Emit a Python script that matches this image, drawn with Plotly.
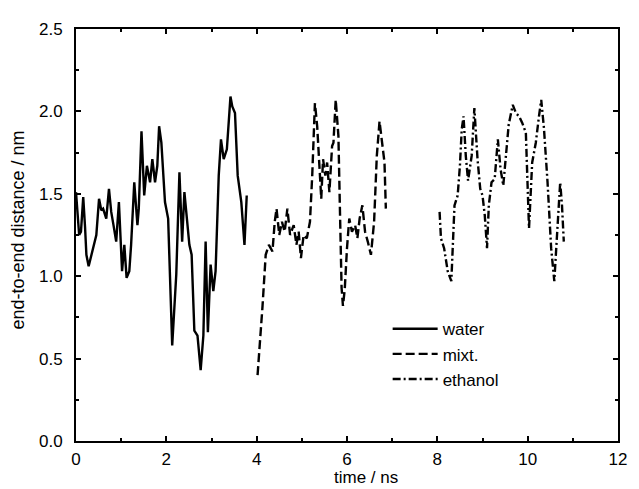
import plotly.graph_objects as go

# water (solid)
water_t = [0.0, 0.04, 0.07, 0.11, 0.16, 0.2, 0.23, 0.28, 0.33, 0.38, 0.45, 0.51, 0.56, 0.6, 0.67,
           0.73, 0.78, 0.83, 0.89, 0.95, 0.98, 1.02, 1.07, 1.12, 1.18, 1.22, 1.29, 1.36, 1.39, 1.45,
           1.51, 1.57, 1.64, 1.69, 1.75, 1.8, 1.84, 1.89, 1.97, 2.04, 2.13, 2.22, 2.29, 2.35, 2.4,
           2.46, 2.51, 2.56, 2.62, 2.69, 2.76, 2.82, 2.87, 2.92, 2.98, 3.04, 3.09, 3.16, 3.21, 3.27,
           3.34, 3.42, 3.46, 3.52, 3.58, 3.66, 3.73, 3.78]
water_d = [1.51, 1.35, 1.25, 1.27, 1.48, 1.3, 1.13, 1.06, 1.12, 1.17, 1.25, 1.47, 1.4, 1.41, 1.35,
           1.53, 1.39, 1.31, 1.21, 1.45, 1.27, 1.03, 1.19, 0.99, 1.03, 1.19, 1.57, 1.31, 1.41, 1.88,
           1.49, 1.67, 1.57, 1.71, 1.57, 1.67, 1.91, 1.81, 1.45, 1.35, 0.58, 1.01, 1.63, 1.21, 1.51,
           1.33, 1.19, 1.13, 0.67, 0.64, 0.43, 0.64, 1.21, 0.66, 1.07, 0.91, 1.03, 1.61, 1.83, 1.71,
           1.77, 2.09, 2.03, 1.99, 1.61, 1.45, 1.19, 1.49]

# mixt. (dashed)
mixt_t = [4.02, 4.08, 4.13, 4.2, 4.27, 4.31, 4.35, 4.4, 4.44, 4.5, 4.56, 4.62, 4.68, 4.74, 4.82,
          4.88, 4.93, 4.98, 5.04, 5.11, 5.18, 5.23, 5.29, 5.34, 5.38, 5.43, 5.47, 5.52, 5.56, 5.61,
          5.67, 5.7, 5.75, 5.81, 5.84, 5.88, 5.91, 5.95, 6.0, 6.05, 6.11, 6.18, 6.23, 6.28, 6.34,
          6.4, 6.46, 6.53, 6.6, 6.66, 6.72, 6.78, 6.83, 6.86]
mixt_d = [0.40, 0.6, 0.82, 1.13, 1.19, 1.17, 1.15, 1.33, 1.41, 1.25, 1.33, 1.27, 1.41, 1.25, 1.31,
          1.19, 1.27, 1.11, 1.25, 1.23, 1.33, 1.61, 2.05, 1.91, 1.69, 1.47, 1.71, 1.61, 1.69, 1.51,
          1.79, 1.81, 2.07, 1.85, 1.45, 0.93, 0.82, 0.92, 1.17, 1.35, 1.27, 1.31, 1.23, 1.35, 1.43,
          1.27, 1.21, 1.13, 1.33, 1.73, 1.94, 1.79, 1.69, 1.41]

# ethanol (dash-dot)
eth_t = [8.05, 8.08, 8.15, 8.23, 8.31, 8.34, 8.38, 8.45, 8.5, 8.54, 8.58, 8.63, 8.68, 8.76, 8.82,
         8.89, 8.95, 9.0, 9.05, 9.1, 9.14, 9.2, 9.27, 9.34, 9.4, 9.46, 9.52, 9.58, 9.67, 9.74,
         9.81, 9.88, 9.96, 10.03, 10.1, 10.18, 10.25, 10.3, 10.36, 10.44, 10.52, 10.59, 10.65, 10.72,
         10.76, 10.8]
eth_d = [1.39, 1.23, 1.17, 1.03, 0.97, 1.19, 1.43, 1.49, 1.67, 1.89, 1.97, 1.73, 1.58, 1.73, 2.02,
         1.71, 1.53, 1.49, 1.37, 1.17, 1.43, 1.57, 1.59, 1.83, 1.65, 1.55, 1.75, 1.92, 2.04, 1.99,
         1.97, 1.93, 1.87, 1.29, 1.69, 1.81, 1.97, 2.07, 1.9, 1.57, 1.17, 0.97, 1.25, 1.57,
         1.43, 1.21]

x_title = "time / ns"
y_title = "end-to-end distance / nm"

FONT = "Liberation Sans, Arial, Helvetica, sans-serif"

fig = go.Figure()
fig.add_trace(go.Scatter(x=water_t, y=water_d, mode="lines", name="water",
                         line=dict(color="black", width=2.4, dash="solid")))
fig.add_trace(go.Scatter(x=mixt_t, y=mixt_d, mode="lines", name="mixt.",
                         line=dict(color="black", width=2.4, dash="9px,4px")))
fig.add_trace(go.Scatter(x=eth_t, y=eth_d, mode="lines", name="ethanol",
                         line=dict(color="black", width=2.4, dash="8px,3px,2px,3px")))

axis_common = dict(showline=True, linecolor="black", linewidth=2, mirror="ticks",
                   ticks="inside", ticklen=5, tickwidth=1.5, tickcolor="black",
                   showgrid=False, zeroline=False,
                   tickfont=dict(family=FONT, size=17, color="black"))

fig.update_xaxes(range=[0, 12], dtick=2, tick0=0, ticklabelstandoff=2,
                 minor=dict(ticks="inside", dtick=1, ticklen=3, tickcolor="black", tickwidth=1.5),
                 **axis_common)
fig.update_yaxes(range=[0, 2.5], dtick=0.5, tick0=0, tickformat=".1f", ticklabelstandoff=8,
                 minor=dict(ticks="inside", dtick=0.25, ticklen=3, tickcolor="black", tickwidth=1.5),
                 **axis_common)

fig.add_annotation(text=x_title, xref="paper", yref="paper", x=0.535, y=-0.089,
                   xanchor="center", yanchor="middle", showarrow=False,
                   font=dict(family=FONT, size=17, color="black"))
fig.add_annotation(text=y_title, xref="paper", yref="paper", x=-0.106, y=0.512,
                   xanchor="center", yanchor="middle", showarrow=False, textangle=-90,
                   font=dict(family=FONT, size=18, color="black"))

# the page body adds an 8px offset, so the figure is 8px smaller and margins are shifted
fig.update_layout(
    width=631, height=481,
    margin=dict(l=68, r=14, t=13, b=48),
    paper_bgcolor="white", plot_bgcolor="white",
    font=dict(family=FONT, size=17, color="black"),
    showlegend=True,
    legend=dict(x=0.575, y=0.315, xanchor="left", yanchor="top", itemwidth=45,
                bgcolor="rgba(0,0,0,0)", font=dict(family=FONT, size=17, color="black"),
                tracegroupgap=0),
)

fig.write_html("out.html")
